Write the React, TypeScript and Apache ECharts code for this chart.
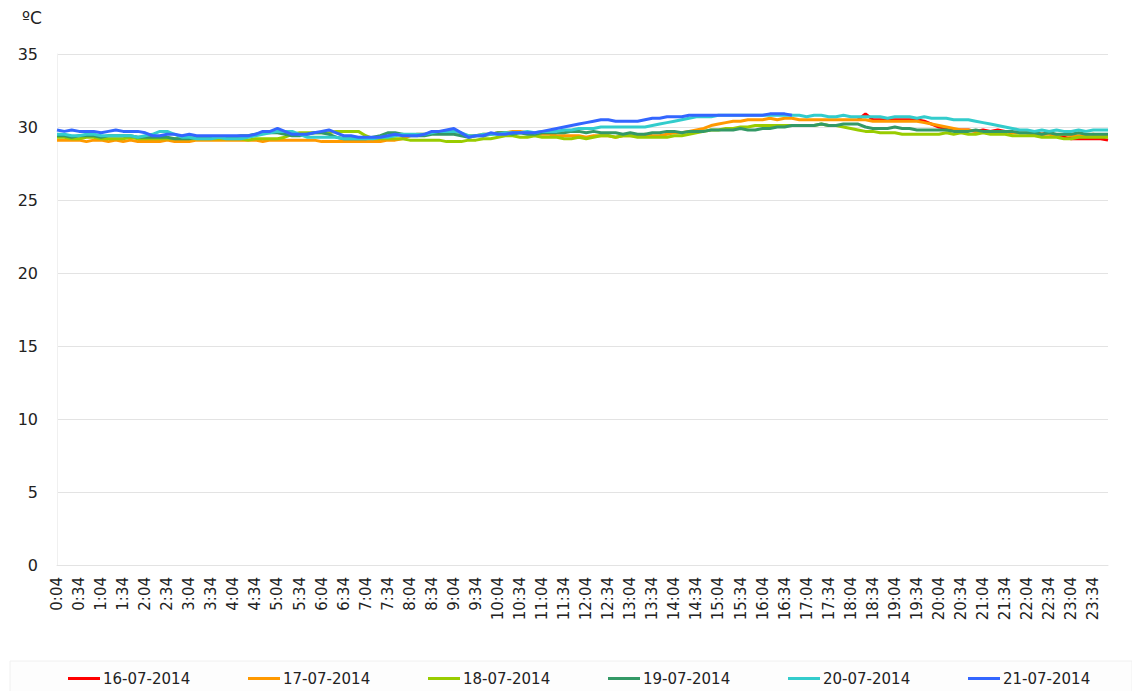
import React, { useEffect, useRef } from "react";
import * as echarts from "echarts";

// categories: every 10 minutes from 0:04 to 23:54
const hours = Array.from({ length: 24 }, (_, h) => h);
const minutes = ["04", "14", "24", "34", "44", "54"];
const times: string[] = hours.flatMap((h) => minutes.map((m) => `${h}:${m}`));

const seriesNames = ["16-07-2014", "17-07-2014", "18-07-2014", "19-07-2014", "20-07-2014", "21-07-2014"];
const seriesColors = ["#ff0000", "#ff9900", "#99cc00", "#339966", "#33cccc", "#3366ff"];

// 16-07-2014: data from 18:14 onwards
const day16Start = 109;
const day16 = [
  30.5, 30.9, 30.5, 30.5, 30.5, 30.5, 30.5, 30.5, 30.5, 30.4,
  30.2, 30.0, 29.9, 29.8, 29.8, 29.8, 29.7, 29.8, 29.7, 29.8,
  29.7, 29.6, 29.7, 29.6, 29.6, 29.5, 29.6, 29.4, 29.3, 29.2,
  29.2, 29.2, 29.2, 29.2, 29.1,
];

const day17 = [
  29.1, 29.1, 29.1, 29.1, 29.0, 29.1, 29.1, 29.0, 29.1, 29.0,
  29.1, 29.0, 29.0, 29.0, 29.0, 29.1, 29.0, 29.0, 29.0, 29.1,
  29.1, 29.1, 29.1, 29.1, 29.1, 29.1, 29.1, 29.1, 29.0, 29.1,
  29.1, 29.1, 29.1, 29.1, 29.1, 29.1, 29.0, 29.0, 29.0, 29.0,
  29.0, 29.0, 29.0, 29.0, 29.0, 29.1, 29.1, 29.2, 29.4, 29.5,
  29.5, 29.6, 29.6, 29.7, 29.7, 29.5, 29.4, 29.4, 29.5, 29.5,
  29.6, 29.6, 29.7, 29.7, 29.6, 29.5, 29.5, 29.5, 29.4, 29.4,
  29.4, 29.4, 29.3, 29.4, 29.4, 29.4, 29.3, 29.4, 29.4, 29.4,
  29.5, 29.4, 29.4, 29.5, 29.6, 29.6, 29.7, 29.8, 29.9, 30.1,
  30.2, 30.3, 30.4, 30.4, 30.5, 30.5, 30.5, 30.6, 30.5, 30.6,
  30.6, 30.5, 30.5, 30.5, 30.5, 30.5, 30.5, 30.5, 30.5, 30.5,
  30.5, 30.4, 30.4, 30.4, 30.4, 30.4, 30.4, 30.4, 30.3, 30.2,
  30.1, 30.0, 29.9, 29.8, 29.8, 29.7, 29.7, 29.7, 29.6, 29.7,
  29.6, 29.6, 29.6, 29.5, 29.5, 29.5, 29.4, 29.5, 29.4, 29.4,
  29.4, 29.5, 29.4, 29.4,
];

const day18 = [
  29.3, 29.3, 29.2, 29.2, 29.3, 29.3, 29.2, 29.2, 29.2, 29.2,
  29.3, 29.2, 29.2, 29.2, 29.2, 29.2, 29.2, 29.2, 29.2, 29.2,
  29.2, 29.2, 29.2, 29.2, 29.2, 29.2, 29.1, 29.2, 29.2, 29.2,
  29.2, 29.3, 29.5, 29.6, 29.6, 29.6, 29.6, 29.6, 29.7, 29.7,
  29.7, 29.7, 29.4, 29.2, 29.2, 29.2, 29.2, 29.2, 29.1, 29.1,
  29.1, 29.1, 29.1, 29.0, 29.0, 29.0, 29.1, 29.1, 29.2, 29.2,
  29.3, 29.4, 29.4, 29.3, 29.3, 29.4, 29.3, 29.3, 29.3, 29.2,
  29.2, 29.3, 29.2, 29.3, 29.4, 29.4, 29.3, 29.4, 29.4, 29.3,
  29.3, 29.3, 29.3, 29.3, 29.4, 29.4, 29.5, 29.6, 29.7, 29.8,
  29.8, 29.9, 29.9, 30.0, 30.0, 30.1, 30.1, 30.1, 30.1, 30.1,
  30.1, 30.1, 30.1, 30.1, 30.2, 30.1, 30.1, 30.0, 29.9, 29.8,
  29.7, 29.7, 29.6, 29.6, 29.6, 29.5, 29.5, 29.5, 29.5, 29.5,
  29.5, 29.6, 29.5, 29.6, 29.5, 29.5, 29.6, 29.5, 29.5, 29.5,
  29.4, 29.4, 29.4, 29.4, 29.3, 29.3, 29.3, 29.2, 29.2, 29.3,
  29.3, 29.3, 29.3, 29.3,
];

const day19 = [
  29.4, 29.4, 29.3, 29.4, 29.4, 29.4, 29.3, 29.4, 29.4, 29.4,
  29.4, 29.3, 29.3, 29.3, 29.3, 29.3, 29.2, 29.2, 29.2, 29.3,
  29.3, 29.3, 29.3, 29.3, 29.3, 29.4, 29.4, 29.5, 29.6, 29.6,
  29.6, 29.5, 29.4, 29.4, 29.5, 29.6, 29.6, 29.5, 29.3, 29.2,
  29.2, 29.2, 29.2, 29.3, 29.4, 29.6, 29.6, 29.5, 29.4, 29.4,
  29.4, 29.5, 29.5, 29.5, 29.5, 29.4, 29.3, 29.4, 29.4, 29.5,
  29.6, 29.6, 29.5, 29.6, 29.5, 29.5, 29.6, 29.6, 29.6, 29.6,
  29.7, 29.7, 29.6, 29.7, 29.6, 29.6, 29.6, 29.5, 29.6, 29.5,
  29.5, 29.6, 29.6, 29.7, 29.7, 29.6, 29.7, 29.7, 29.7, 29.8,
  29.8, 29.8, 29.8, 29.9, 29.8, 29.8, 29.9, 29.9, 30.0, 30.0,
  30.1, 30.1, 30.1, 30.1, 30.2, 30.1, 30.1, 30.2, 30.2, 30.2,
  30.0, 29.9, 29.9, 29.9, 30.0, 29.9, 29.9, 29.8, 29.8, 29.8,
  29.8, 29.8, 29.7, 29.7, 29.7, 29.8, 29.7, 29.7, 29.7, 29.7,
  29.7, 29.6, 29.6, 29.6, 29.5, 29.6, 29.5, 29.5, 29.5, 29.6,
  29.5, 29.5, 29.5, 29.5,
];

const day20 = [
  29.5, 29.5, 29.4, 29.4, 29.5, 29.5, 29.4, 29.4, 29.4, 29.4,
  29.4, 29.3, 29.4, 29.5, 29.7, 29.7, 29.5, 29.3, 29.3, 29.2,
  29.2, 29.2, 29.3, 29.2, 29.2, 29.2, 29.3, 29.4, 29.5, 29.6,
  29.7, 29.7, 29.7, 29.5, 29.3, 29.3, 29.3, 29.3, 29.3, 29.2,
  29.2, 29.2, 29.2, 29.2, 29.3, 29.3, 29.4, 29.5, 29.5, 29.5,
  29.5, 29.6, 29.7, 29.7, 29.7, 29.6, 29.4, 29.4, 29.5, 29.5,
  29.5, 29.6, 29.6, 29.6, 29.7, 29.6, 29.7, 29.7, 29.7, 29.8,
  29.8, 29.9, 29.9, 29.9, 30.0, 30.0, 30.0, 30.0, 30.0, 30.0,
  30.0, 30.1, 30.2, 30.3, 30.4, 30.5, 30.6, 30.7, 30.7, 30.7,
  30.8, 30.8, 30.8, 30.8, 30.8, 30.8, 30.8, 30.8, 30.8, 30.8,
  30.8, 30.8, 30.7, 30.8, 30.8, 30.7, 30.7, 30.8, 30.7, 30.7,
  30.7, 30.7, 30.7, 30.6, 30.7, 30.7, 30.7, 30.6, 30.7, 30.6,
  30.6, 30.6, 30.5, 30.5, 30.5, 30.4, 30.3, 30.2, 30.1, 30.0,
  29.9, 29.8, 29.8, 29.7, 29.8, 29.7, 29.8, 29.7, 29.7, 29.8,
  29.7, 29.8, 29.8, 29.8,
];

// 21-07-2014: data until 16:44
const day21 = [
  29.8, 29.7, 29.8, 29.7, 29.7, 29.7, 29.6, 29.7, 29.8, 29.7,
  29.7, 29.7, 29.6, 29.4, 29.4, 29.5, 29.5, 29.4, 29.5, 29.4,
  29.4, 29.4, 29.4, 29.4, 29.4, 29.4, 29.4, 29.5, 29.7, 29.7,
  29.9, 29.7, 29.5, 29.5, 29.5, 29.6, 29.7, 29.8, 29.6, 29.4,
  29.4, 29.3, 29.3, 29.3, 29.3, 29.4, 29.5, 29.4, 29.4, 29.4,
  29.5, 29.7, 29.7, 29.8, 29.9, 29.6, 29.3, 29.4, 29.4, 29.6,
  29.5, 29.5, 29.6, 29.6, 29.6, 29.6, 29.7, 29.8, 29.9, 30.0,
  30.1, 30.2, 30.3, 30.4, 30.5, 30.5, 30.4, 30.4, 30.4, 30.4,
  30.5, 30.6, 30.6, 30.7, 30.7, 30.7, 30.8, 30.8, 30.8, 30.8,
  30.8, 30.8, 30.8, 30.8, 30.8, 30.8, 30.8, 30.9, 30.9, 30.9,
  30.8,
];

const yTickMin = 0;
const yTickMax = 35;
const yTickStep = 5;

const FONT = "'DejaVu Sans', Verdana, sans-serif";

function padFront(vals: number[], start: number) {
  return (Array(start).fill(null) as (number | null)[]).concat(vals);
}
function padBack(vals: number[], total: number) {
  return (vals as (number | null)[]).concat(Array(total - vals.length).fill(null));
}

export default function App() {
  const ref = useRef<HTMLDivElement>(null);
  useEffect(() => {
    document.body.style.margin = "0";
    if (!ref.current) return;
    const chart = echarts.init(ref.current, undefined, { renderer: "svg" });
    const seriesData = [
      padFront(day16, day16Start),
      day17,
      day18,
      day19,
      day20,
      padBack(day21, times.length),
    ];
    chart.setOption({
      animation: false,
      backgroundColor: "#ffffff",
      textStyle: { fontFamily: FONT },
      grid: { left: 57, right: 24, top: 54, bottom: 126 },
      graphic: [
        {
          type: "rect",
          z: -10,
          shape: { x: 10, y: 661, width: 1122, height: 40 },
          style: { fill: "#fdfdfd", stroke: "#f0f0f0", lineWidth: 1 },
        },
        {
          type: "text",
          left: 22,
          top: 9,
          style: { text: "ºC", fontSize: 17, fill: "#222", fontFamily: FONT },
        },
      ],
      legend: seriesNames.map((name, k) => ({
        data: [name],
        left: 68 + 180 * k,
        top: 671,
        padding: 0,
        icon: "rect",
        itemWidth: 32,
        itemHeight: 3,
        itemGap: 0,
        textStyle: { fontSize: 15, color: "#222", fontFamily: FONT, padding: [0, 0, 0, -2] },
      })),
      xAxis: {
        type: "category",
        boundaryGap: false,
        data: times,
        axisTick: { show: false },
        axisLine: { show: true, lineStyle: { color: "#e3e3e3" } },
        axisLabel: { rotate: 90, interval: 2, fontSize: 15, color: "#222", margin: 12, fontFamily: FONT },
        splitLine: { show: false },
      },
      yAxis: {
        type: "value",
        min: yTickMin,
        max: yTickMax,
        interval: yTickStep,
        axisLine: { show: true, lineStyle: { color: "#f0f0f0" } },
        axisTick: { show: false },
        axisLabel: { fontSize: 16, color: "#222", margin: 19, fontFamily: FONT },
        splitLine: { lineStyle: { color: "#e3e3e3" } },
      },
      series: seriesNames.map((name, k) => ({
        name,
        type: "line",
        data: seriesData[k],
        showSymbol: false,
        symbol: "none",
        connectNulls: false,
        color: seriesColors[k],
        lineStyle: { width: 3, color: seriesColors[k] },
        emphasis: { disabled: true },
      })),
    });
    return () => chart.dispose();
  }, []);
  return <div ref={ref} style={{ width: 1132, height: 691 }} />;
}
